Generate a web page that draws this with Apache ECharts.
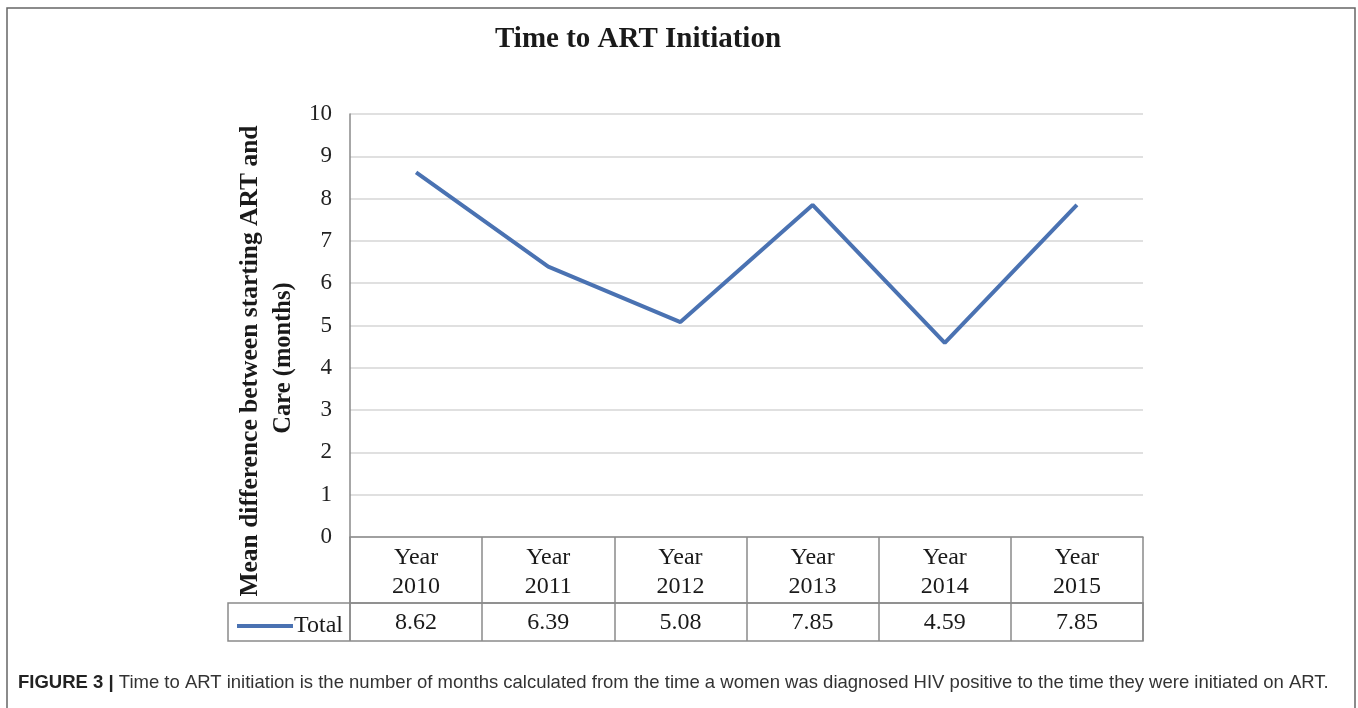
<!DOCTYPE html>
<html>
<head>
<meta charset="utf-8">
<script src="https://cdn.jsdelivr.net/npm/echarts@6/dist/echarts.min.js"></script>
<style>
html,body{margin:0;padding:0;background:#fff;}
#chart{width:1358px;height:708px;}
</style>
</head>
<body>
<div id="chart"></div>
<script>
const categories = ['2010', '2011', '2012', '2013', '2014', '2015'];
const totalValues = [8.62, 6.39, 5.08, 7.85, 4.59, 7.85];
const seriesName = 'Total';
const titleText = 'Time to ART Initiation';
const yNameLine1 = 'Mean difference between starting ART and';
const yNameLine2 = 'Care (months)';
const captionBold = 'FIGURE 3 |';
const captionText = ' Time to ART initiation is the number of months calculated from the time a women was diagnosed HIV positive to the time they were initiated on ART.';

const SERIF = '"Liberation Serif", "DejaVu Serif", serif';
const SANS = '"Liberation Sans", Arial, sans-serif';
const GL = 350, GR = 1143, GT = 114, GB = 537;
const tableLeft = 228, rowMid = 603, tableBottom = 641;

const chart = echarts.init(document.getElementById('chart'));
chart.setOption({
  backgroundColor: '#fff',
  animation: false,
  title: {
    text: titleText,
    left: 490,
    top: 20,
    textStyle: { fontFamily: SERIF, fontWeight: 'bold', fontSize: 29, color: '#1a1a1a' }
  },
  legend: {
    data: [{ name: seriesName, icon: 'rect' }],
    left: 232,
    top: 609,
    itemWidth: 56,
    itemHeight: 4,
    itemGap: 0,
    textStyle: { fontFamily: SERIF, fontSize: 24, color: '#1a1a1a', padding: [0, 0, 0, -4] }
  },
  grid: { left: GL, right: 1358 - GR, top: GT, bottom: 708 - GB, containLabel: false },
  xAxis: [
    {
      type: 'category',
      data: categories,
      boundaryGap: true,
      position: 'bottom',
      axisLine: { show: true, lineStyle: { color: '#8a8a8a', width: 1.5 } },
      axisTick: { show: true, interval: 0, length: tableBottom - GB, lineStyle: { color: '#8a8a8a', width: 1.5 } },
      axisLabel: {
        interval: 0,
        margin: 6,
        fontFamily: SERIF,
        fontSize: 24,
        lineHeight: 29,
        color: '#1a1a1a',
        formatter: v => 'Year\n' + v
      },
      splitLine: { show: false }
    },
    {
      type: 'category',
      data: categories,
      boundaryGap: true,
      position: 'bottom',
      offset: rowMid - GB,
      axisLine: { show: true, lineStyle: { color: '#8a8a8a', width: 1.5 } },
      axisTick: { show: false },
      axisLabel: {
        interval: 0,
        margin: 8,
        fontFamily: SERIF,
        fontSize: 24,
        color: '#1a1a1a',
        formatter: (v, i) => totalValues[i].toFixed(2)
      },
      splitLine: { show: false }
    }
  ],
  yAxis: {
    type: 'value',
    min: 0,
    max: 10,
    interval: 1,
    axisLine: { show: true, lineStyle: { color: '#8a8a8a', width: 1.5 } },
    axisTick: { show: false },
    axisLabel: { margin: 18, fontFamily: SERIF, fontSize: 23, color: '#222' },
    splitLine: { show: true, lineStyle: { color: '#d6d6d6', width: 1.5 } }
  },
  series: [{
    name: seriesName,
    type: 'line',
    data: totalValues,
    xAxisIndex: 0,
    symbol: 'none',
    lineStyle: { color: '#4A72B2', width: 4 },
    itemStyle: { color: '#4A72B2' }
  }],
  graphic: [
    { type: 'rect', silent: true, shape: { x: 7, y: 8, width: 1348, height: 710 },
      style: { fill: 'none', stroke: '#666', lineWidth: 1.5 } },
    { type: 'rect', silent: true, shape: { x: tableLeft, y: rowMid, width: GR - tableLeft, height: tableBottom - rowMid },
      style: { fill: 'none', stroke: '#8a8a8a', lineWidth: 1.5 } },
    { type: 'line', silent: true, shape: { x1: GL, y1: GB, x2: GL, y2: tableBottom },
      style: { stroke: '#8a8a8a', lineWidth: 1.5 } },
    { type: 'text', silent: true, x: 250, y: 361, rotation: Math.PI / 2,
      style: { text: yNameLine1, fontFamily: SERIF, fontWeight: 'bold', fontSize: 25.5, fill: '#1a1a1a',
               align: 'center', verticalAlign: 'middle' } },
    { type: 'text', silent: true, x: 284, y: 358, rotation: Math.PI / 2,
      style: { text: yNameLine2, fontFamily: SERIF, fontWeight: 'bold', fontSize: 24.5, fill: '#1a1a1a',
               align: 'center', verticalAlign: 'middle' } },
    { type: 'text', silent: true, x: 18, y: 683,
      style: { text: '{b|' + captionBold + '}{r|' + captionText + '}', verticalAlign: 'middle', align: 'left',
               rich: {
                 b: { fontFamily: SANS, fontWeight: 'bold', fontSize: 18.5, fill: '#222', color: '#222' },
                 r: { fontFamily: SANS, fontSize: 18.5, fill: '#333', color: '#333' }
               } } }
  ]
});
</script>
</body>
</html>
